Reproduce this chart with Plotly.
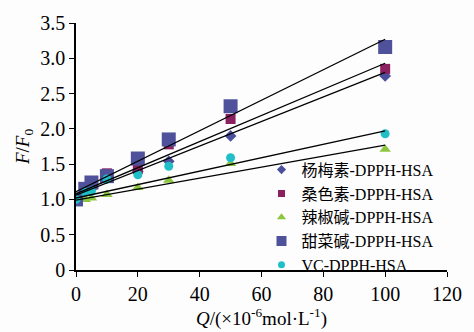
import plotly.graph_objects as go

x = [0, 3, 5, 10, 20, 30, 50, 100]
names = ["杨梅素-DPPH-HSA", "桑色素-DPPH-HSA", "辣椒碱-DPPH-HSA", "甜菜碱-DPPH-HSA", "VC-DPPH-HSA"]
myricetin = [1.0, 1.10, 1.17, 1.30, 1.40, 1.54, 1.90, 2.75]
morin = [1.0, 1.12, 1.20, 1.37, 1.43, 1.78, 2.14, 2.85]
capsaicin = [1.0, 1.00, 1.02, 1.07, 1.17, 1.27, 1.51, 1.71]
betaine = [1.0, 1.15, 1.24, 1.33, 1.58, 1.85, 2.32, 3.16]
vc = [1.0, 1.10, 1.12, 1.29, 1.35, 1.47, 1.59, 1.93]
series = [myricetin, morin, capsaicin, betaine, vc]

# fitted trend lines (value at x=0 and x=100)
fit_x = [0, 100]
fit_start = [1.06, 1.08, 0.99, 1.11, 1.02]
fit_end = [2.80, 2.93, 1.77, 3.27, 1.97]

symbols = ["diamond", "square", "triangle-up", "square", "circle"]
colors = ["#4b4f9c", "#8b2060", "#8cc63f", "#4f529b", "#20bfc8"]
sizes = [9, 10, 10, 14, 9]
legend_sizes = [7, 7, 8, 10, 7]

xticks = [0, 20, 40, 60, 80, 100, 120]
yticks = [0, 0.5, 1.0, 1.5, 2.0, 2.5, 3.0, 3.5]
ytext = ["0", "0.5", "1.0", "1.5", "2.0", "2.5", "3.0", "3.5"]

font_fam = "Liberation Serif, Noto Sans CJK SC, serif"

fig = go.Figure()
for name, ys, sym, col, sz in zip(names, series, symbols, colors, sizes):
    fig.add_trace(go.Scatter(x=x, y=ys, mode="markers", name=name, showlegend=False,
                             marker=dict(symbol=sym, color=col, size=sz, line=dict(width=0))))
for y0, y1 in zip(fit_start, fit_end):
    fig.add_trace(go.Scatter(x=fit_x, y=[y0, y1], mode="lines", showlegend=False,
                             line=dict(color="black", width=1.3), hoverinfo="skip"))
# legend entries with smaller symbols
for name, sym, col, sz in zip(names, symbols, colors, legend_sizes):
    fig.add_trace(go.Scatter(x=[None], y=[None], mode="markers", name=name,
                             marker=dict(symbol=sym, color=col, size=sz, line=dict(width=0))))

fig.update_layout(
    width=474, height=332,
    margin=dict(l=76, r=24, t=16, b=60),
    paper_bgcolor="#fdfdfd", plot_bgcolor="#fdfdfd",
    font=dict(family=font_fam, size=20, color="black"),
    showlegend=True,
    legend=dict(x=0.50, y=0.475, xanchor="left", yanchor="top",
                font=dict(size=16, family=font_fam), bgcolor="rgba(0,0,0,0)",
                itemwidth=30, tracegroupgap=0),
    xaxis=dict(range=[0, 120], tickvals=xticks, showline=True, linecolor="black",
               linewidth=1.5, ticks="outside", ticklen=5, tickcolor="black",
               showgrid=False, zeroline=False,
               title=dict(text="<i>Q</i>/(×10<sup>-6</sup>mol·L<sup>-1</sup>)", standoff=2,
                          font=dict(size=19))),
    yaxis=dict(range=[0, 3.5], tickvals=yticks, ticktext=ytext, showline=True,
               linecolor="black", linewidth=1.5, ticks="outside", ticklen=5,
               tickcolor="black", showgrid=False, zeroline=False,
               title=dict(text="<i>F</i>/<i>F</i><sub>0</sub>", standoff=6,
                          font=dict(size=19))),
)
fig.write_html("out.html")
